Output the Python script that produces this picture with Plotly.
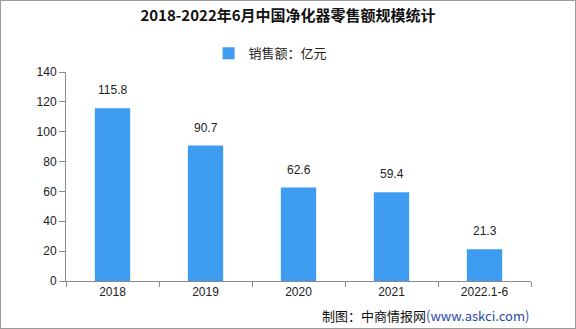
import plotly.graph_objects as go

categories = ["2018", "2019", "2020", "2021", "2022.1-6"]
values = [115.8, 90.7, 62.6, 59.4, 21.3]
labels = ["115.8", "90.7", "62.6", "59.4", "21.3"]
y_ticks = [0, 20, 40, 60, 80, 100, 120, 140]

font_fam = "Liberation Sans, Noto Sans CJK SC, sans-serif"

fig = go.Figure()
fig.add_trace(go.Bar(
    x=categories, y=values, name="销售额：亿元",
    marker=dict(color="#3d9cf0", line=dict(width=0)),
    width=0.38,
))
# value labels: category axis positions are indices (0..n-1)
for i, (v, t) in enumerate(zip(values, labels)):
    fig.add_annotation(x=i, y=v, text=t, showarrow=False, yanchor="bottom",
                       yshift=9, font=dict(size=12, color="#222", family=font_fam))

fig.update_layout(
    width=576, height=329,
    margin=dict(l=66, r=45, t=72, b=48),
    paper_bgcolor="white", plot_bgcolor="white",
    font=dict(family=font_fam, size=12, color="#222"),
    title=dict(text="<b>2018-2022年6月中国净化器零售额规模统计</b>",
               x=0.5, xanchor="center", y=0.952, yanchor="middle",
               font=dict(size=15, family="Noto Sans CJK SC", color="#111")),
    showlegend=True,
    legend=dict(orientation="h", x=0.44, xanchor="center", y=1.09, yanchor="middle",
                font=dict(size=13, family="Noto Sans CJK SC"),
                itemwidth=30, bgcolor="rgba(0,0,0,0)"),
    shapes=[dict(type="rect", xref="paper", yref="paper",
                 x0=-66/465, x1=1+45/465, y0=-48/209, y1=1+72/209,
                 line=dict(color="#9a9a9a", width=2))],
)
fig.update_xaxes(type="category", range=[-0.5, 4.5],
                 showline=True, linecolor="#8c8c8c", linewidth=1,
                 ticks="outside", tickson="boundaries", ticklen=5, tickcolor="#8c8c8c",
                 showgrid=False, tickfont=dict(size=12))
fig.update_yaxes(range=[0, 140], tickvals=y_ticks, showline=True, linecolor="#8c8c8c",
                 linewidth=1, ticks="outside", ticklen=6, tickcolor="#8c8c8c",
                 showgrid=False, zeroline=False, tickfont=dict(size=12))

fig.add_annotation(text="制图：中商情报网<span style='color:#2a4aa8'>(www.askci.com)</span>",
                   xref="paper", yref="paper", x=1.0, y=-34/209, xanchor="right", yanchor="middle",
                   showarrow=False, font=dict(size=13, family="Noto Sans CJK SC", color="#111"))

fig.write_html("out.html")
